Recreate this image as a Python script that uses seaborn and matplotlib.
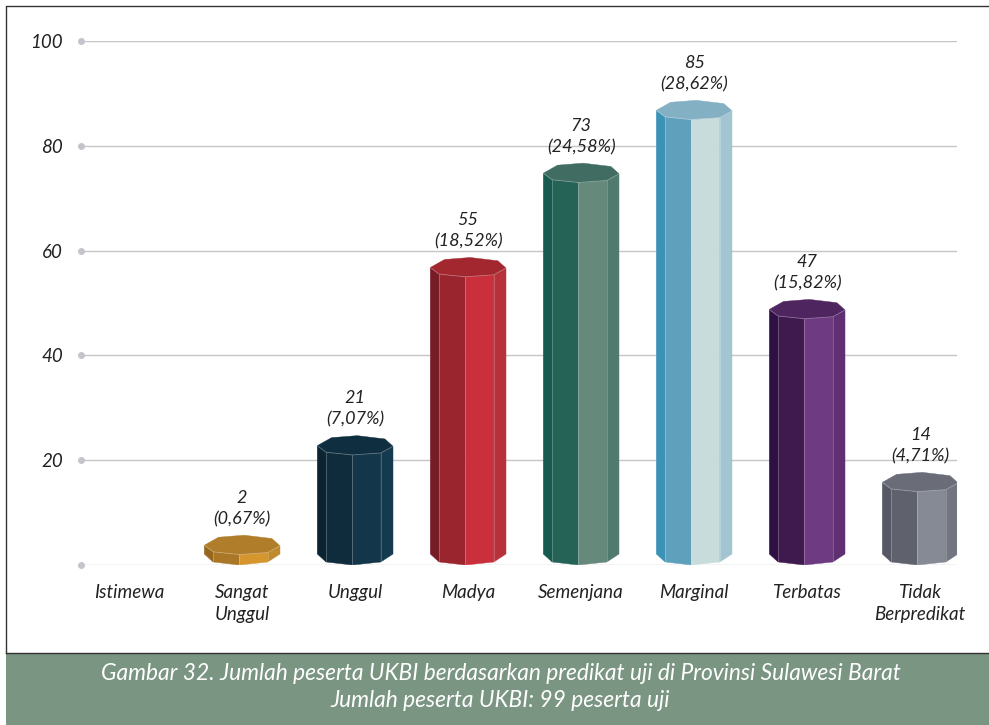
import pandas as pd
import seaborn as sns
import matplotlib.pyplot as plt
from matplotlib.patches import Rectangle
from matplotlib.lines import Line2D

# Data
predikat = ['Istimewa', 'Sangat\nUnggul', 'Unggul', 'Madya', 'Semenjana', 'Marginal', 'Terbatas', 'Tidak\nBerpredikat']
jumlah = [0, 2, 21, 55, 73, 85, 47, 14]
persen = ['', '(0,67%)', '(7,07%)', '(18,52%)', '(24,58%)', '(28,62%)', '(15,82%)', '(4,71%)']
yticks = [0, 20, 40, 60, 80, 100]
ylabels = ['', '20', '40', '60', '80', '100']
caption = 'Gambar 32. Jumlah peserta UKBI berdasarkan predikat uji di Provinsi Sulawesi Barat\nJumlah peserta UKBI: 99 peserta uji'

# face colours: far left, left, centre, right, top
warna = {
    'Istimewa': ['#ffffff'] * 5,
    'Sangat\nUnggul': ['#96661f', '#a97726', '#d5962e', '#bf8a2c', '#b07d2a'],
    'Unggul': ['#0c2332', '#0f2c3d', '#14364a', '#133a4f', '#0f2e3f'],
    'Madya': ['#761c26', '#9a252e', '#c9303b', '#b7313a', '#a3272f'],
    'Semenjana': ['#165a50', '#256357', '#658a7c', '#517a6e', '#406c62'],
    'Marginal': ['#3a93b5', '#5fa0bd', '#c9dcdc', '#a2c5d1', '#83b0c3'],
    'Terbatas': ['#2f1044', '#3f1a4f', '#6e3a82', '#5f2f72', '#4f2560'],
    'Tidak\nBerpredikat': ['#565865', '#5f616d', '#868a95', '#737580', '#6a6c77'],
}

plt.rcParams['font.family'] = ['Lato', 'DejaVu Sans']
W, H = 989, 725
fig = plt.figure(figsize=(W / 100, H / 100), dpi=100)
ax = fig.add_axes([81 / W, (H - 565) / H, (957 - 81) / W, (565 - 41) / H])

df = pd.DataFrame({'predikat': predikat, 'jumlah': jumlah})
sns.barplot(data=df, x='predikat', y='jumlah', hue='predikat', palette=[warna[p][2] for p in predikat],
            width=0.67, legend=False, ax=ax)

ax.set_xlim(-0.426, 7.326)
ax.set_ylim(0, 100)
ax.set_xlabel('')
ax.set_ylabel('')
sns.despine(ax=ax, left=True, bottom=True)

ax.set_yticks(yticks)
ax.set_yticklabels(ylabels, fontsize=13.5, style='italic', color='#222222')
ax.set_xticks(range(len(predikat)))
ax.set_xticklabels(predikat, fontsize=13.5, style='italic', color='#222222', linespacing=1.35)
ax.tick_params(axis='y', length=0, pad=13)
ax.tick_params(axis='x', length=0, pad=13.5)
ax.yaxis.grid(True, color='#c6c6c6', lw=1)
ax.set_axisbelow(True)
ax.scatter([0] * len(yticks), yticks, s=16, color='#c3c5cc', transform=ax.get_yaxis_transform(),
           clip_on=False, zorder=2)

# octagonal prism shape: x as part of bar width, y offsets in pixels turned into data units
px = 100 / (565 - 41)
xs = [0, 0.116, 0.464, 0.839, 1]
depan = [9.3, 2.7, 0, 2, 8.7]
bawah = [11, 3, 0, 3, 11]
belakang = [(0.188, 17.3), (0.527, 19.3), (0.893, 16)]

for bar, nama, val, pct in zip(ax.patches, predikat, jumlah, persen):
    bar.set_alpha(0)
    if val == 0:
        continue
    x0, w = bar.get_x(), bar.get_width()
    xv = [x0 + f * w for f in xs]
    top = [val + d * px for d in depan]
    bot = [d * px for d in bawah]
    c = warna[nama]
    for i in range(4):
        ax.fill([xv[i], xv[i + 1], xv[i + 1], xv[i]], [bot[i], bot[i + 1], top[i + 1], top[i]],
                facecolor=c[i], edgecolor=c[i], lw=0.3, zorder=3)
        if i > 0:
            ax.plot([xv[i], xv[i]], [bot[i], top[i]], color='white', alpha=0.25, lw=0.6, zorder=4)
    # top surface
    tx = xv + [x0 + f * w for f, d in reversed(belakang)]
    ty = top + [val + d * px for f, d in reversed(belakang)]
    ax.fill(tx, ty, facecolor=c[4], edgecolor=c[4], lw=0.3, zorder=4)
    ax.plot(xv, top, color='white', alpha=0.3, lw=0.6, zorder=4)
    cx = x0 + w / 2
    ax.annotate(str(val), (cx, val), xytext=(0, 40.8), textcoords='offset points', ha='center', va='center',
                fontsize=13, style='italic', color='#222222', zorder=5)
    ax.annotate(pct, (cx, val), xytext=(0, 25.6), textcoords='offset points', ha='center', va='center',
                fontsize=13, style='italic', color='#222222', zorder=5)

# frame and caption band
fig.add_artist(Rectangle((6 / W, 0), 1 - 6 / W, (H - 653) / H, transform=fig.transFigure, color='#7a9581', lw=0))
fig.add_artist(Line2D([6 / W, 6 / W, 1], [(H - 653) / H, (H - 5.5) / H, (H - 5.5) / H], color='#333333', lw=1))
fig.add_artist(Line2D([6 / W, 1], [(H - 652.5) / H] * 2, color='#333333', lw=1))
fig.text(500.5 / W, (H - 687) / H, caption, ha='center', va='center', fontsize=16.4, style='italic',
         color='white', linespacing=1.3)

fig.savefig('out.png', dpi=100)
